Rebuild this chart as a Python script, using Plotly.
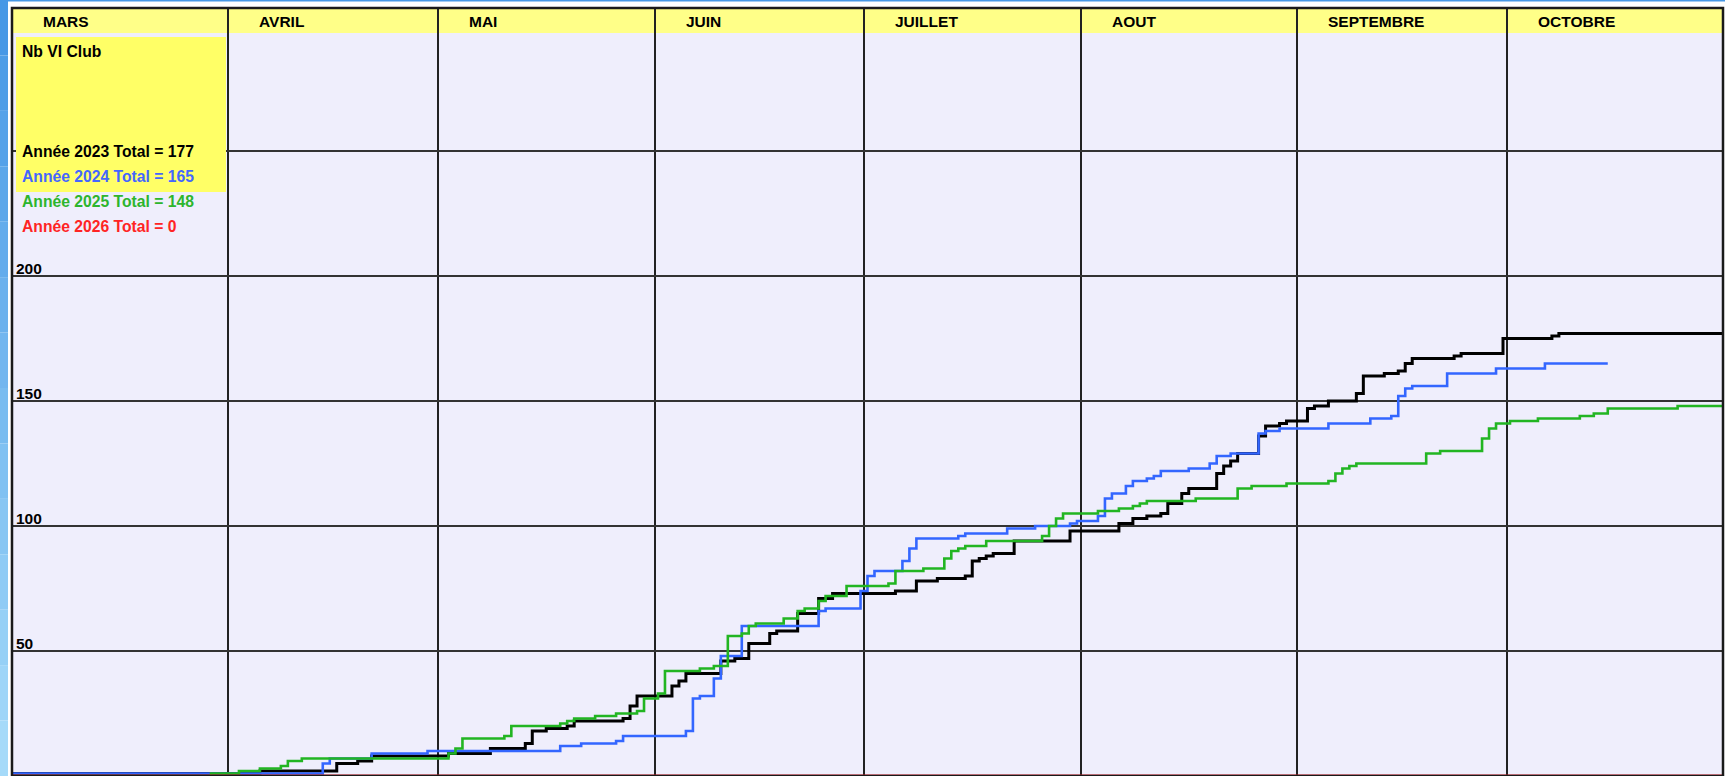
import pandas as pd
import plotly.graph_objects as go

# ---------------- data ----------------
REF_YEAR = 2001  # common calendar used to overlay the seasons

months = ["MARS", "AVRIL", "MAI", "JUIN", "JUILLET", "AOUT", "SEPTEMBRE", "OCTOBRE"]
month_starts = ["03-01", "04-01", "05-01", "06-01", "07-01", "08-01", "09-01", "10-01"]
season_start = "03-01"
season_end = "11-01"

y_grid = [50, 100, 150, 200, 250]
y_labels = [50, 100, 150, 200]

years = [2023, 2024, 2025, 2026]

dates_2023 = ["03-01", "04-05", "04-16", "04-19", "04-21", "05-02", "05-08", "05-13", "05-14",
              "05-16", "05-19", "05-20", "05-27", "05-28", "05-29", "06-03", "06-04", "06-05",
              "06-10", "06-12", "06-14", "06-17", "06-18", "06-21", "06-24", "06-26", "07-05",
              "07-08", "07-11", "07-15", "07-16", "07-17", "07-18", "07-19", "07-22", "07-30",
              "08-06", "08-08", "08-10", "08-12", "08-13", "08-15", "08-16", "08-20", "08-21",
              "08-22", "08-23", "08-26", "08-27", "08-29", "08-30", "09-02", "09-03", "09-05",
              "09-09", "09-10", "09-13", "09-15", "09-16", "09-17", "09-23", "09-24", "09-30",
              "10-07", "10-08", "10-31"]
vi_2023 = [1, 2, 5, 6, 8, 9, 11, 13, 18,
           19, 20, 22, 23, 28, 32, 36, 38, 41,
           46, 47, 53, 57, 58, 65, 71, 73, 74,
           78, 79, 80, 86, 87, 88, 89, 94, 98,
           101, 103, 104, 105, 109, 113, 115, 121, 124,
           126, 129, 136, 140, 141, 142, 147, 148, 150,
           153, 160, 161, 162, 165, 167, 168, 169, 175,
           176, 177, 177]

dates_2024 = ["03-01", "04-14", "04-15", "04-21", "04-29", "05-18", "05-21", "05-26", "05-27",
              "06-05", "06-06", "06-07", "06-09", "06-10", "06-13", "06-24", "06-25", "06-30",
              "07-01", "07-02", "07-06", "07-07", "07-08", "07-14", "07-15", "07-21", "07-25",
              "07-30", "07-31", "08-03", "08-04", "08-05", "08-07", "08-08", "08-10", "08-11",
              "08-12", "08-16", "08-19", "08-20", "08-22", "08-26", "08-27", "08-29", "09-05",
              "09-11", "09-14", "09-15", "09-16", "09-17", "09-22", "09-29", "10-06", "10-15"]
vi_2024 = [1, 5, 7, 9, 10, 12, 13, 14, 16,
           18, 31, 32, 39, 48, 60, 66, 67, 74,
           80, 82, 86, 91, 95, 96, 97, 99, 100,
           101, 102, 104, 111, 113, 116, 118, 119, 120,
           122, 123, 125, 128, 129, 137, 138, 139, 141,
           143, 144, 152, 155, 156, 161, 163, 165, 165]

dates_2025 = ["03-01", "03-29", "04-02", "04-05", "04-08", "04-09", "04-11", "05-02", "05-03",
              "05-04", "05-10", "05-11", "05-18", "05-19", "05-20", "05-23", "05-26", "05-29",
              "05-30", "06-01", "06-02", "06-07", "06-09", "06-11", "06-13", "06-14", "06-15",
              "06-19", "06-21", "06-22", "06-24", "06-25", "06-28", "07-04", "07-05", "07-09",
              "07-12", "07-13", "07-14", "07-15", "07-18", "07-26", "07-27", "07-28", "07-29",
              "08-03", "08-06", "08-08", "08-09", "08-10", "08-17", "08-23", "08-25", "08-30",
              "09-05", "09-06", "09-07", "09-08", "09-09", "09-19", "09-21", "09-27", "09-28",
              "09-29", "10-01", "10-05", "10-11", "10-13", "10-15", "10-25", "10-31"]
vi_2025 = [0, 1, 2, 3, 4, 6, 7, 9, 11,
           15, 16, 20, 21, 22, 23, 24, 25, 26,
           31, 33, 42, 43, 44, 56, 57, 60, 61,
           63, 66, 67, 70, 72, 76, 77, 82, 83,
           87, 90, 91, 92, 94, 96, 100, 103, 105,
           106, 107, 108, 109, 110, 111, 115, 116, 117,
           118, 121, 123, 124, 125, 129, 130, 135, 139,
           141, 142, 143, 144, 145, 147, 148, 148]

dates_2026 = ["03-01", "10-31"]
vi_2026 = [0, 0]

series_dates = [dates_2023, dates_2024, dates_2025, dates_2026]
series_vals = [vi_2023, vi_2024, vi_2025, vi_2026]

# ---------------- styles ----------------
line_colors = ["#000000", "#3366FF", "#22B522", "#E8242C"]
text_colors = ["#000000", "#4466FF", "#2DB52D", "#FF2424"]
line_widths = [3, 2.6, 2.6, 3]
FONT = "Liberation Sans, Arial, sans-serif"

W, H = 1725, 776
ML, MR, MT, MB = 12, 2, 8, 0
PW, PH = W - ML - MR, H - MT - MB


def day(md, hours=0):
    return pd.Timestamp(f"{REF_YEAR}-{md}") + pd.Timedelta(hours=hours)


def px_x(p):  # pixel column -> paper x
    return (p - ML) / PW


def px_y(p):  # pixel row -> paper y
    return (H - MB - p) / PH


fig = go.Figure()

for dates, vals, col, lw in zip(series_dates, series_vals, line_colors, line_widths):
    xs = [day(season_start)] + [day(d, 12) for d in dates]
    ys = [vals[0]] + list(vals)
    if dates[-1] == "10-31":
        xs.append(day(season_end))
        ys.append(vals[-1])
    fig.add_trace(go.Scatter(x=xs, y=ys, mode="lines", line=dict(color=col, width=lw, shape="hv"),
                             hoverinfo="skip", showlegend=False))

shapes = []
# left / top blue frame of the page (gradient approximation)
n = 14
top_c = (70, 152, 230)
bot_c = (165, 218, 249)
for i in range(n):
    t = i / (n - 1)
    c = tuple(int(round(top_c[k] + (bot_c[k] - top_c[k]) * t)) for k in range(3))
    shapes.append(dict(type="rect", xref="paper", yref="paper",
                       x0=px_x(0), x1=px_x(8), y0=px_y(H * (i + 1) / n), y1=px_y(H * i / n),
                       fillcolor=f"rgb{c}", line=dict(width=0), layer="below"))
shapes.append(dict(type="rect", xref="paper", yref="paper", x0=px_x(0), x1=px_x(W),
                   y0=px_y(1.5), y1=px_y(0), fillcolor="rgb(70,152,230)", line=dict(width=0),
                   layer="below"))
# yellow header band
shapes.append(dict(type="rect", xref="paper", yref="paper", x0=0, x1=1, y0=px_y(33), y1=1,
                   fillcolor="#FFFF88", line=dict(width=0), layer="below"))
# yellow legend box
shapes.append(dict(type="rect", xref="paper", yref="paper", x0=px_x(16), x1=px_x(226),
                   y0=px_y(192), y1=px_y(37), fillcolor="#FFFF66", line=dict(width=0),
                   layer="above"))
# plot frame
shapes.append(dict(type="rect", xref="paper", yref="paper", x0=0, x1=1, y0=0, y1=1,
                   line=dict(color="#1A1A1A", width=2.5), fillcolor="rgba(0,0,0,0)",
                   layer="above"))

annotations = []
for m, ms in zip(months, month_starts):
    annotations.append(dict(x=day(ms), xref="x", y=px_y(21.3), yref="paper", text=m,
                            xanchor="left", yanchor="middle", xshift=29, showarrow=False,
                            font=dict(family=FONT, size=15.5, color="#000000", weight="bold")))
for v in y_labels:
    annotations.append(dict(x=0, xref="paper", y=v, yref="y", text=str(v), xanchor="left",
                            yanchor="bottom", xshift=2, yshift=-2.5, showarrow=False,
                            font=dict(family=FONT, size=15.5, color="#000000", weight="bold")))

annotations.append(dict(x=0, xref="paper", y=px_y(51.3), yref="paper", text="Nb VI Club",
                        xanchor="left", yanchor="middle", xshift=8, showarrow=False,
                        font=dict(family=FONT, size=15.7, color="#000000", weight="bold")))
for i, (yr, vals, tc) in enumerate(zip(years, series_vals, text_colors)):
    annotations.append(dict(x=0, xref="paper", y=px_y(151.3 + 25 * i), yref="paper",
                            text=f"Année {yr} Total = {max(vals)}", xanchor="left",
                            yanchor="middle", xshift=8, showarrow=False,
                            font=dict(family=FONT, size=15.7, color=tc, weight="bold")))

fig.update_layout(
    width=W, height=H,
    margin=dict(l=ML, r=MR, t=MT, b=MB, pad=0),
    paper_bgcolor="#FFFFFF",
    plot_bgcolor="#EFEEFC",
    showlegend=False,
    shapes=shapes,
    annotations=annotations,
    xaxis=dict(type="date", range=[day(season_start), day(season_end)],
               tickvals=[day(ms) for ms in month_starts[1:]], showticklabels=False,
               showgrid=True, gridcolor="#222222", gridwidth=2, zeroline=False,
               showline=False, ticks="", fixedrange=True),
    yaxis=dict(range=[0, PH / 2.5], tickvals=y_grid, showticklabels=False, showgrid=True,
               gridcolor="#333333", gridwidth=2, zeroline=False, showline=False, ticks="",
               fixedrange=True),
)

fig.write_html(
    "out.html",
    config={"displayModeBar": False},
    post_script="document.body.style.margin='0';document.body.style.overflow='hidden';",
)
